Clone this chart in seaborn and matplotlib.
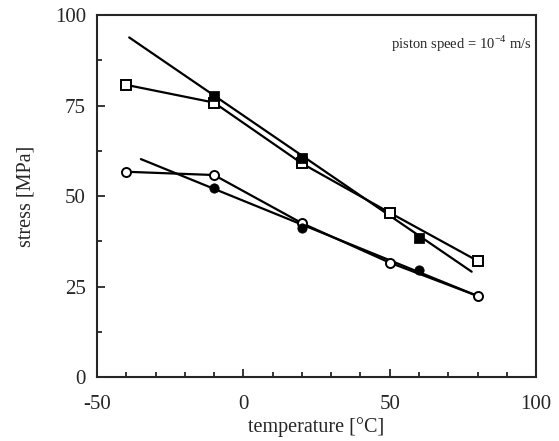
import matplotlib
matplotlib.use("Agg")
import matplotlib.pyplot as plt
import seaborn as sns
from matplotlib.ticker import MultipleLocator

# data
open_sq_x = [-40, -10, 20, 50, 80]
open_sq_y = [80.7, 75.8, 59.0, 45.4, 32.1]
fill_sq_x = [-10, 20, 60]
fill_sq_y = [77.6, 60.4, 38.3]
fit_sq_x = [-39, 78]
fit_sq_y = [93.8, 29.1]

open_ci_x = [-40, -10, 20, 50, 80]
open_ci_y = [56.7, 55.8, 42.5, 31.6, 22.4]
fill_ci_x = [-10, 20, 60]
fill_ci_y = [52.1, 41.2, 29.5]
fit_ci_x = [-35, 80]
fit_ci_y = [60.2, 22.4]

sns.set_style("ticks")
plt.rcParams['font.family'] = ['Liberation Serif', 'DejaVu Serif']
plt.rcParams['axes.unicode_minus'] = False
plt.rcParams['mathtext.fontset'] = 'custom'
plt.rcParams['mathtext.rm'] = 'Liberation Serif'

fig = plt.figure(figsize=(5.59, 4.41), dpi=100)
ax = fig.add_axes([0.1735, 0.145, 0.7855, 0.821])

lw = 1.6
ms = 6.5
mew = 1.4

# fit lines
sns.lineplot(x=fit_sq_x, y=fit_sq_y, ax=ax, color='black', lw=lw)
sns.lineplot(x=fit_ci_x, y=fit_ci_y, ax=ax, color='black', lw=lw)
# open series connected
sns.lineplot(x=open_sq_x, y=open_sq_y, ax=ax, color='black', lw=lw, marker='s',
             markersize=ms, markerfacecolor='white', markeredgecolor='black', markeredgewidth=mew)
sns.lineplot(x=open_ci_x, y=open_ci_y, ax=ax, color='black', lw=lw, marker='o',
             markersize=ms, markerfacecolor='white', markeredgecolor='black', markeredgewidth=mew)
# filled markers
sns.scatterplot(x=fill_sq_x, y=fill_sq_y, ax=ax, color='black', marker='s', s=45, edgecolor='black', zorder=5)
sns.scatterplot(x=fill_ci_x, y=fill_ci_y, ax=ax, color='black', marker='o', s=45, edgecolor='black', zorder=5)

ax.set_xlim(-50, 100)
ax.set_ylim(0, 100)
ax.xaxis.set_major_locator(MultipleLocator(50))
ax.xaxis.set_minor_locator(MultipleLocator(10))
ax.yaxis.set_major_locator(MultipleLocator(25))
ax.yaxis.set_minor_locator(MultipleLocator(12.5))
ax.tick_params(which='both', direction='in', labelsize=15, width=1.3)
ax.tick_params(axis='x', pad=13)
ax.tick_params(axis='y', pad=8)
ax.tick_params(which='major', length=6)
ax.tick_params(which='minor', length=3.5)
for s in ax.spines.values():
    s.set_linewidth(1.5)
    s.set_visible(True)

ax.set_xlabel("temperature [°C]", fontsize=14.5, labelpad=2)
ax.set_ylabel("stress [MPa]", fontsize=14.5, labelpad=14)
ax.text(0.99, 0.92, r"piston speed = 10$^{-4}$ m/s", transform=ax.transAxes,
        ha='right', va='center', fontsize=10.5)

fig.savefig("out.png", dpi=100)
